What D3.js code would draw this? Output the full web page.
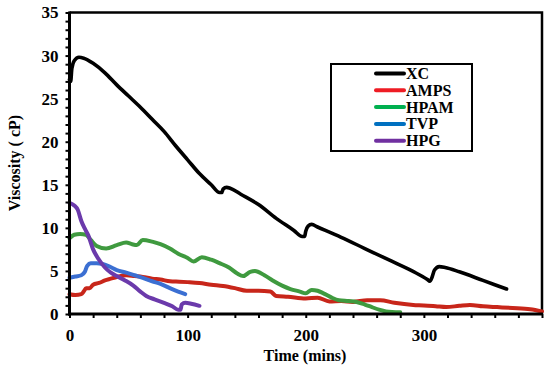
<!DOCTYPE html>
<html><head><meta charset="utf-8">
<script src="https://cdn.jsdelivr.net/npm/d3@7"></script>
<style>body{margin:0;background:#fff}svg{display:block}text{font-family:"Liberation Serif","Times New Roman",serif;font-weight:bold}</style>
</head><body><svg id="c" width="550" height="371"></svg>
<script>
const seriesNames = ["XC","AMPS","HPAM","TVP","HPG"];
const legendColors = ["#000000","#ee1c24","#00b050","#0070c0","#7030a0"];
const lineColors = ["#000000","#c8261a","#3f9a3f","#3b6fd2","#6b3aab"];
const xTicks = [0,100,200,300];
const yTicks = [0,5,10,15,20,25,30,35];
const xc = [[0,27.2],[1,27.0],[2,28.5],[4,29.4],[8,29.8],[12,29.7],[20,29.1],[30,28.0],[40,26.6],[50,25.3],[60,24.0],[70,22.6],[80,21.2],[90,19.5],[100,17.9],[110,16.3],[120,15.0],[127,14.1],[129,14.1],[130,14.5],[133,14.7],[136,14.6],[145,13.9],[160,12.7],[175,11.1],[190,9.7],[197,9.0],[199,9.0],[200,9.6],[202,10.2],[205,10.4],[210,10.1],[230,8.9],[250,7.6],[270,6.3],[290,5.0],[303,4.0],[305,3.8],[307,4.3],[309,5.1],[313,5.5],[318,5.4],[330,4.9],[350,3.9],[370,2.9]];
const amps = [[0,2.3],[5,2.2],[10,2.3],[12,2.6],[14,3.0],[17,3.0],[20,3.4],[25,3.6],[30,3.9],[35,4.1],[40,4.3],[48,4.5],[55,4.4],[62,4.3],[70,4.1],[77,4.0],[85,3.8],[93,3.75],[100,3.7],[110,3.6],[120,3.4],[130,3.25],[140,3.0],[150,2.7],[160,2.7],[170,2.6],[175,2.1],[185,2.0],[200,1.8],[210,1.9],[220,1.45],[230,1.5],[240,1.4],[252,1.6],[263,1.6],[275,1.3],[291,1.05],[300,1.0],[310,0.9],[319,0.8],[330,0.95],[339,1.05],[350,0.9],[362,0.8],[375,0.7],[390,0.55],[400,0.3]];
const hpam = [[0,8.8],[4,9.2],[9,9.3],[14,9.2],[18,8.6],[23,7.9],[31,7.6],[40,8.0],[48,8.3],[53,8.1],[57,8.0],[62,8.6],[70,8.4],[77,8.1],[85,7.6],[92,7.0],[100,6.5],[105,6.1],[112,6.6],[120,6.3],[127,5.9],[135,5.4],[142,4.7],[147,4.4],[153,4.9],[157,5.0],[165,4.5],[172,3.9],[180,3.3],[187,2.9],[195,2.6],[200,2.4],[205,2.8],[210,2.7],[215,2.4],[222,1.9],[228,1.6],[236,1.5],[243,1.4],[250,1.1],[256,0.8],[262,0.5],[268,0.3],[280,0.2]];
const tvp = [[0,4.2],[5,4.35],[10,4.5],[13,4.9],[15,5.6],[18,5.9],[23,5.9],[28,5.8],[34,5.5],[40,5.1],[48,4.8],[55,4.5],[62,4.2],[70,3.8],[77,3.5],[85,3.0],[92,2.6],[98,2.3]];
const hpg = [[0,12.9],[4,12.6],[7,12.1],[10,10.8],[13,9.9],[16,9.1],[20,7.5],[25,6.3],[30,5.4],[35,4.8],[40,4.4],[47,3.9],[54,3.3],[60,2.6],[65,2.1],[72,1.7],[80,1.3],[87,0.9],[92,0.5],[94,0.5],[95,1.1],[98,1.3],[103,1.2],[110,0.95]];
const allSeries = [xc, amps, hpam, tvp, hpg];

const svg = d3.select("#c");
const L = 69.5, R = 542, T = 12.5, B = 314;
const x = d3.scaleLinear().domain([0,400]).range([L,R]);
const y = d3.scaleLinear().domain([0,35]).range([B,T]);

svg.append("path").attr("d",`M${L},${T}H${R}V${B}`).attr("fill","none").attr("stroke","#000").attr("stroke-width",2.5);

const line = d3.line().x(d=>x(d[0])).y(d=>y(d[1])).curve(d3.curveMonotoneX);
const order = [1,2,3,4,0];
order.forEach(i=>{
  svg.append("path").datum(allSeries[i]).attr("d",line).attr("fill","none")
    .attr("stroke",lineColors[i]).attr("stroke-width", i===0?3.6:4)
    .attr("stroke-linejoin","round").attr("stroke-linecap","round");
});

const xAxisMinor = d3.axisBottom(x).tickValues(d3.range(0,401,20)).tickSize(4).tickFormat("");
const gxm = svg.append("g").attr("transform",`translate(0,${B})`).call(xAxisMinor);
gxm.selectAll("line").attr("stroke","#000").attr("stroke-width",2);
gxm.select(".domain").remove();
const yAxisMinor = d3.axisLeft(y).tickValues(d3.range(0,36,1)).tickSize(4).tickFormat("");
const gym = svg.append("g").attr("transform",`translate(${L},0)`).call(yAxisMinor);
gym.selectAll("line").attr("stroke","#000").attr("stroke-width",2);
gym.select(".domain").remove();

const gx = svg.append("g").attr("transform",`translate(0,${B})`).call(d3.axisBottom(x).tickValues(xTicks).tickSize(0).tickPadding(15));
gx.select(".domain").remove();
gx.selectAll("text").attr("font-size",17).attr("fill","#000").attr("font-family","Liberation Serif").attr("font-weight","bold");
const gy = svg.append("g").attr("transform",`translate(${L},0)`).call(d3.axisLeft(y).tickValues(yTicks).tickSize(0).tickPadding(11));
gy.select(".domain").remove();
gy.selectAll("text").attr("font-size",17).attr("fill","#000").attr("font-family","Liberation Serif").attr("font-weight","bold");

svg.append("line").attr("x1",L).attr("x2",L).attr("y1",T-1).attr("y2",B+1.5).attr("stroke","#000").attr("stroke-width",3);
svg.append("line").attr("x1",L-1.5).attr("x2",R+1).attr("y1",B).attr("y2",B).attr("stroke","#000").attr("stroke-width",3);

svg.append("text").attr("x",305).attr("y",361).attr("text-anchor","middle").attr("font-size",16).text("Time (mins)");
svg.append("text").attr("transform","translate(20,163) rotate(-90)").attr("text-anchor","middle").attr("font-size",16).text("Viscosity ( cP)");

const lg = svg.append("g");
lg.append("rect").attr("x",331).attr("y",64).attr("width",141).attr("height",87).attr("fill","#fff").attr("stroke","#000").attr("stroke-width",2);
seriesNames.forEach((n,i)=>{
  const yy = 73.5 + i*16.8;
  lg.append("line").attr("x1",376).attr("x2",404).attr("y1",yy).attr("y2",yy).attr("stroke",legendColors[i]).attr("stroke-width",4).attr("stroke-linecap","round");
  lg.append("text").attr("x",406).attr("y",yy+5.5).attr("font-size",16).text(n);
});
</script></body></html>
